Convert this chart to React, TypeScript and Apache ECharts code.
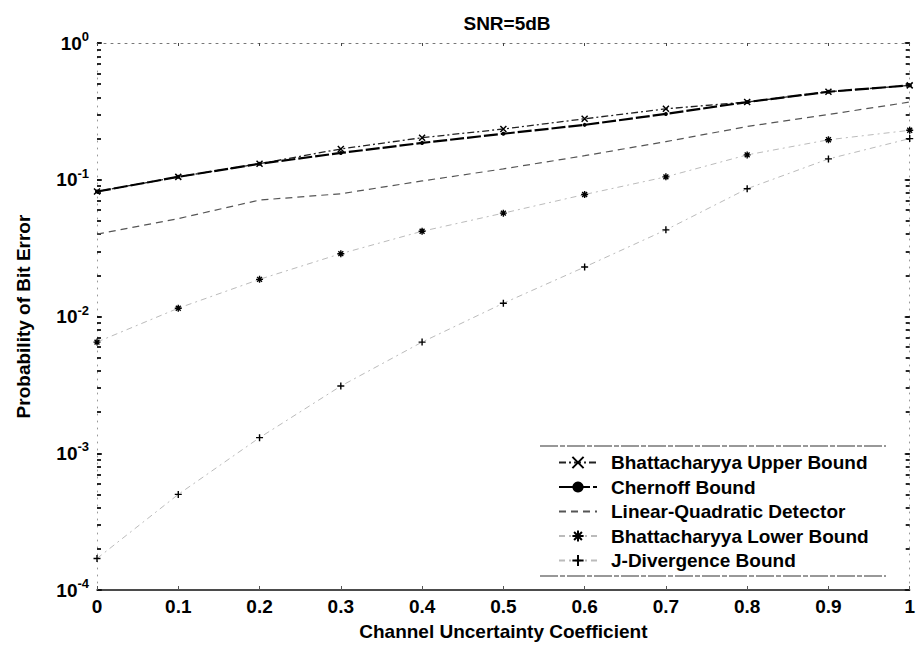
import React, { useEffect, useRef } from "react";
import * as echarts from "echarts";

// Channel uncertainty coefficient (x values)
const xValues = [0, 0.1, 0.2, 0.3, 0.4, 0.5, 0.6, 0.7, 0.8, 0.9, 1.0];

// Probability of bit error
const bhattUpper = [0.082, 0.105, 0.131, 0.168, 0.203, 0.235, 0.279, 0.33, 0.37, 0.44, 0.49];
const chernoff = [0.082, 0.105, 0.131, 0.157, 0.186, 0.217, 0.252, 0.303, 0.37, 0.44, 0.49];
const linQuad = [0.04, 0.052, 0.071, 0.079, 0.098, 0.12, 0.15, 0.19, 0.245, 0.3, 0.37];
const bhattLower = [0.0065, 0.0115, 0.0187, 0.0288, 0.042, 0.057, 0.078, 0.105, 0.152, 0.196, 0.23];
const jDiv = [0.00017, 0.0005, 0.0013, 0.0031, 0.0065, 0.0125, 0.023, 0.043, 0.086, 0.142, 0.2];

const seriesNames = [
  "Bhattacharyya Upper Bound",
  "Chernoff Bound",
  "Linear-Quadratic Detector",
  "Bhattacharyya Lower Bound",
  "J-Divergence Bound",
];

// log-axis decades and the 1..9 sub-divisions used for the tick marks
const decades = [1e-4, 1e-3, 1e-2, 1e-1];
const subSteps = [1, 2, 3, 4, 5, 6, 7, 8, 9];

const titleText = "SNR=5dB";
const xAxisTitle = "Channel Uncertainty Coefficient";
const yAxisTitle = "Probability of Bit Error";

const FONT = "Liberation Sans, Arial, Helvetica, sans-serif";
const FS = 19;

const pair = (ys: number[]) => xValues.map((x, i) => [x, ys[i]]);

const PLUS = "path://M5,0L5,10M0,5L10,5";
const CROSS = "path://M0,0L10,10M0,10L10,0";
const STAR = "path://M5,0L5,10M0,5L10,5M1.5,1.5L8.5,8.5M1.5,8.5L8.5,1.5";

export default function App() {
  const ref = useRef<HTMLDivElement>(null);

  useEffect(() => {
    if (!ref.current) return;
    const chart = echarts.init(ref.current, undefined, { renderer: "svg" });

    // tick positions in log10 space, drawn as minor ticks of helper linear axes
    const tickLogs: number[] = [];
    decades.forEach((d) => subSteps.forEach((s) => tickLogs.push(Math.log10(d * s))));
    tickLogs.push(0);

    const yLabelFormatter = (v: number) => {
      const e = Math.round(Math.log10(v));
      return `{b|10}{s|${e}}`;
    };

    const yRich = {
      b: { fontSize: FS, fontWeight: "bold", fontFamily: FONT, color: "#000" },
      s: {
        fontSize: 13,
        fontWeight: "bold",
        fontFamily: FONT,
        color: "#000",
        padding: [0, 0, 13, 0],
      },
    };

    const boxLine = { show: true, onZero: false, lineStyle: { color: "#999", width: 1, type: [1, 6] } };

    const tickAxis = (position: "left" | "right") => ({
      type: "value",
      min: -4,
      max: 0,
      position,
      axisLine: { show: true, onZero: false, lineStyle: { color: "rgba(0,0,0,0)" } },
      axisTick: {
        show: true,
        inside: true,
        length: 4,
        customValues: tickLogs,
        lineStyle: { color: "#111", width: 1.8 },
      },
      axisLabel: { show: false },
      splitLine: { show: false },
    });

    const option: any = {
      animation: false,
      backgroundColor: "#fff",
      title: {
        text: titleText,
        left: 502,
        top: 9,
        textAlign: "center",
        textStyle: { fontFamily: FONT, fontSize: FS, fontWeight: "bold", color: "#000" },
      },
      grid: { left: 97, right: 7, top: 43, bottom: 55, containLabel: false },
      xAxis: [
        {
          type: "value",
          min: 0,
          max: 1,
          interval: 0.1,
          position: "bottom",
          name: xAxisTitle,
          nameLocation: "middle",
          nameGap: 32,
          nameTextStyle: { fontFamily: FONT, fontSize: FS, fontWeight: "bold", color: "#000" },
          axisLine: { show: true, onZero: false, lineStyle: { color: "#111", width: 1.5 } },
          axisTick: { show: true, inside: true, length: 4, lineStyle: { color: "#555" } },
          axisLabel: {
            margin: 7,
            fontFamily: FONT,
            fontSize: FS,
            fontWeight: "bold",
            color: "#000",
            formatter: (v: number) => String(Math.round(v * 10) / 10),
          },
          splitLine: { show: false },
        },
        {
          type: "value",
          min: 0,
          max: 1,
          interval: 0.1,
          position: "top",
          axisLine: { show: true, onZero: false, lineStyle: { color: "#777", width: 1, type: [2, 5] } },
          axisTick: { show: true, inside: true, length: 3, lineStyle: { color: "#444" } },
          axisLabel: { show: false },
          splitLine: { show: false },
        },
      ],
      yAxis: [
        {
          type: "log",
          logBase: 10,
          min: 1e-4,
          max: 1,
          position: "left",
          name: yAxisTitle,
          nameLocation: "middle",
          nameGap: 64,
          nameTextStyle: { fontFamily: FONT, fontSize: FS, fontWeight: "bold", color: "#000" },
          axisLine: boxLine,
          axisTick: { show: true, inside: true, length: 5, lineStyle: { color: "#111", width: 1.5 } },
          axisLabel: {
            margin: 8,
            formatter: yLabelFormatter,
            rich: yRich,
          },
          splitLine: { show: false },
        },
        {
          type: "log",
          logBase: 10,
          min: 1e-4,
          max: 1,
          position: "right",
          axisLine: boxLine,
          axisTick: { show: true, inside: true, length: 5, lineStyle: { color: "#111", width: 1.5 } },
          axisLabel: { show: false },
          splitLine: { show: false },
        },
        tickAxis("left"),
        tickAxis("right"),
      ],
      legend: {
        orient: "vertical",
        left: 553,
        top: 448,
        itemWidth: 38,
        itemHeight: 14,
        itemGap: 5.5,
        padding: 5,
        textStyle: {
          fontFamily: FONT,
          fontSize: FS,
          fontWeight: "bold",
          color: "#000",
          lineHeight: 18,
          padding: [0, 0, 0, 9],
        },
        data: [
          { name: seriesNames[0] },
          { name: seriesNames[1] },
          { name: seriesNames[2], itemStyle: { opacity: 0 } },
          { name: seriesNames[3] },
          { name: seriesNames[4] },
        ],
      },
      graphic: [
        {
          type: "line",
          shape: { x1: 540, y1: 446, x2: 886, y2: 446 },
          style: { stroke: "#333", lineWidth: 1.2, lineDash: [18, 2, 5, 2] },
          silent: true,
        },
        {
          type: "line",
          shape: { x1: 540, y1: 576, x2: 886, y2: 576 },
          style: { stroke: "#333", lineWidth: 1.2, lineDash: [18, 2, 5, 2] },
          silent: true,
        },
      ],
      series: [
        {
          name: seriesNames[0],
          type: "line",
          data: pair(bhattUpper),
          symbol: CROSS,
          symbolSize: 6,
          lineStyle: { color: "#222", width: 1.3, type: [7, 3, 2, 3] },
          itemStyle: { color: "#000", borderColor: "#000", borderWidth: 1.5 },
          z: 3,
        },
        {
          name: seriesNames[1],
          type: "line",
          data: pair(chernoff),
          symbol: "circle",
          symbolSize: 4,
          lineStyle: { color: "#000", width: 2.2, type: [14, 3] },
          itemStyle: { color: "#000" },
          z: 4,
        },
        {
          name: seriesNames[2],
          type: "line",
          data: pair(linQuad),
          symbol: "none",
          lineStyle: { color: "#555", width: 1.2, type: [7, 5] },
          itemStyle: { color: "#555" },
          z: 2,
        },
        {
          name: seriesNames[3],
          type: "line",
          data: pair(bhattLower),
          symbol: STAR,
          symbolSize: 7,
          lineStyle: { color: "#bbb", width: 1, type: [6, 4, 2, 4] },
          itemStyle: { color: "#000", borderColor: "#000", borderWidth: 1.4 },
          z: 2,
        },
        {
          name: seriesNames[4],
          type: "line",
          data: pair(jDiv),
          symbol: PLUS,
          symbolSize: 7,
          lineStyle: { color: "#bbb", width: 1, type: [6, 4, 2, 4] },
          itemStyle: { color: "#000", borderColor: "#000", borderWidth: 1.4 },
          z: 2,
        },
      ],
    };

    chart.setOption(option);
    return () => chart.dispose();
  }, []);

  return (
    <div
      ref={ref}
      style={{ position: "fixed", left: 0, top: 0, width: 918, height: 646, background: "#fff" }}
    />
  );
}
